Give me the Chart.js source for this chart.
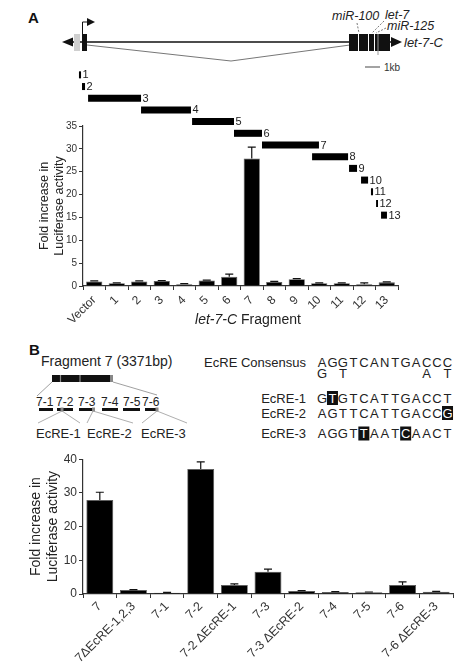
<!DOCTYPE html>
<html><head><meta charset="utf-8">
<script src="https://cdn.jsdelivr.net/npm/chart.js@4.4.1/dist/chart.umd.min.js"></script>
<style>
body{margin:0;width:476px;height:666px;position:relative;background:#fff;font-family:"Liberation Sans",Arial,sans-serif;overflow:hidden}
svg,canvas,div.t{position:absolute}
svg{left:0;top:0}
</style></head><body>
<svg width="476" height="666" viewBox="0 0 476 666" font-family="Liberation Sans, Arial, sans-serif">
  <!-- Panel A gene structure -->
  <text x="28" y="23" font-size="15" font-weight="bold" fill="#111">A</text>
  <line x1="70" y1="42" x2="392" y2="42" stroke="#111" stroke-width="1.5"/>
  <polygon points="62,42 73,37.5 73,46.5" fill="#111"/>
  <rect x="74" y="34" width="6" height="17" fill="#cfcfcf"/>
  <rect x="82" y="34" width="5" height="17" fill="#111"/>
  <polyline points="82.5,34 82.5,22 88,22" fill="none" stroke="#111" stroke-width="1"/>
  <polygon points="95,22 87,18 87,26" fill="#111"/>
  <polyline points="87,45 231,61 350,45" fill="none" stroke="#777" stroke-width="1"/>
  <rect x="349" y="34" width="41" height="17" fill="#111"/>
  <line x1="358.5" y1="34" x2="358.5" y2="51" stroke="#fff" stroke-width="1"/>
  <line x1="368.5" y1="34" x2="368.5" y2="51" stroke="#fff" stroke-width="1"/>
  <line x1="374.5" y1="34" x2="374.5" y2="51" stroke="#fff" stroke-width="1"/>
  <line x1="378" y1="34" x2="378" y2="55" stroke="#999" stroke-width="1"/>
  <polygon points="402,42 391,37 391,47" fill="#111"/>
  <text x="404" y="47" font-size="13" font-style="italic" fill="#222">let-7-C</text>
  <text x="332" y="20" font-size="12.5" font-style="italic" fill="#222">miR-100</text>
  <text x="385" y="19" font-size="12.5" font-style="italic" fill="#222">let-7</text>
  <text x="387" y="30" font-size="12.5" font-style="italic" fill="#222">miR-125</text>
  <line x1="357" y1="23" x2="359" y2="33" stroke="#555" stroke-width="0.8" stroke-dasharray="2,1.5"/>
  <line x1="384" y1="21" x2="372" y2="33" stroke="#555" stroke-width="0.8" stroke-dasharray="2,1.5"/>
  <line x1="386" y1="28" x2="376" y2="33" stroke="#555" stroke-width="0.8" stroke-dasharray="2,1.5"/>
  <line x1="365" y1="67" x2="380" y2="67" stroke="#666" stroke-width="1.2"/>
  <text x="384" y="70.5" font-size="10" fill="#333">1kb</text>

  <!-- Panel B diagram -->
  <text x="29" y="355" font-size="15" font-weight="bold" fill="#111">B</text>
  <text x="41" y="366" font-size="14" fill="#222">Fragment 7 (3371bp)</text>
  <rect x="52" y="375" width="61" height="7" fill="#111"/>
  <line x1="60.5" y1="375" x2="60.5" y2="382" stroke="#888" stroke-width="1.2"/>
  <line x1="80" y1="375" x2="80" y2="382" stroke="#888" stroke-width="1.2"/>
  <rect x="110" y="375" width="3" height="7" fill="#888"/>
  <line x1="52" y1="382" x2="37" y2="396" stroke="#888" stroke-width="0.8"/>
  <line x1="113" y1="382" x2="157" y2="395" stroke="#888" stroke-width="0.8"/>
  <g font-size="12" fill="#222">
    <text x="36" y="405.5">7-1</text><text x="56" y="405.5">7-2</text><text x="78" y="405.5">7-3</text>
    <text x="101" y="405.5">7-4</text><text x="123" y="405.5">7-5</text><text x="142" y="405.5">7-6</text>
  </g>
  <g fill="#111">
    <rect x="39" y="408" width="14" height="3"/><rect x="57" y="408" width="16" height="3"/>
    <rect x="79" y="408" width="15" height="3"/><rect x="102" y="408" width="16" height="3"/>
    <rect x="123" y="408" width="17" height="3"/><rect x="145" y="408" width="12" height="3"/>
  </g>
  <g fill="#888"><rect x="60.5" y="407.5" width="3" height="4"/><rect x="92" y="407.5" width="3" height="4"/><rect x="155.5" y="407.5" width="3" height="4"/></g>
  <g stroke="#999" stroke-width="0.8">
    <line x1="62" y1="411" x2="38" y2="423"/><line x1="62" y1="411" x2="80" y2="423"/>
    <line x1="93" y1="411" x2="87" y2="423"/><line x1="93" y1="411" x2="133" y2="423"/>
    <line x1="157" y1="411" x2="142" y2="423"/><line x1="157" y1="411" x2="187" y2="423"/>
  </g>
  <g font-size="13" fill="#222">
    <text x="36" y="438">EcRE-1</text><text x="87" y="438">EcRE-2</text><text x="141" y="438">EcRE-3</text>
  </g>
  <g id="seqs" font-size="13" fill="#222"></g>
</svg>

<canvas id="fragA" width="476" height="152" style="left:0px;top:69px"></canvas>
<canvas id="chartA" width="476" height="224" style="left:0px;top:116px"></canvas>
<div class="t" style="left:148px;width:200px;top:311px;text-align:center;font-size:14px;color:#222"><i>let-7-C</i> Fragment</div>
<canvas id="chartB" width="476" height="216" style="left:0px;top:450px"></canvas>

<script>
// ---- Panel A data ----
const catsA = ['Vector','1','2','3','4','5','6','7','8','9','10','11','12','13'];
const valsA = [1.0, 0.6, 1.0, 1.1, 0.4, 1.2, 2.0, 27.9, 0.9, 1.5, 0.6, 0.6, 0.4, 0.8];
const errA  = [0.1, 0.1, 0.1, 0.1, 0.1, 0.1, 0.6, 2.5, 0.1, 0.1, 0.1, 0.1, 0.3, 0.1];
const yTicksA = [0,5,10,15,20,25,30,35];

// fragment positions (kb, relative to transcription start)
const fragNames = ['1','2','3','4','5','6','7','8','9','10','11','12','13'];
const fragStart = [-0.19, 0.0, 0.38, 3.69, 6.88, 9.5, 11.25, 14.38, 16.69, 17.44, 18.06, 18.38, 18.69];
const fragEnd   = [-0.06, 0.19, 3.69, 6.81, 9.5, 11.25, 14.81, 16.63, 17.19, 17.88, 18.19, 18.5, 19.06];

// ---- Panel B data ----
const catsB = ['7','7\u0394EcRE-1,2,3','7-1','7-2','7-2 \u0394EcRE-1','7-3','7-3 \u0394EcRE-2','7-4','7-5','7-6','7-6 \u0394EcRE-3'];
const valsB = [27.9, 1.2, 0.4, 37.1, 2.7, 6.6, 0.9, 0.6, 0.5, 2.7, 0.7];
const errB  = [2.3, 0.1, 0.1, 2.1, 0.3, 0.8, 0.1, 0.1, 0.1, 0.9, 0.1];
const yTicksB = [0,5,10,15,20,25,30,35,40];

// sequences
const seqRows = [
  {label:'EcRE Consensus', seq:'AGGTCANTGACCC', hi:[], y:367},
  {label:'', seq:'G T       A T', hi:[], y:377.5},
  {label:'EcRE-1', seq:'GTGTCATTGACCT', hi:[1], y:402.5},
  {label:'EcRE-2', seq:'AGTTCATTGACCG', hi:[12], y:417.5},
  {label:'EcRE-3', seq:'AGGTTAATCAACT', hi:[4,8], y:438}
];

// ---- build sequence text ----
const NS='http://www.w3.org/2000/svg';
const g=document.getElementById('seqs');
seqRows.forEach(r=>{
  if(r.label){const t=document.createElementNS(NS,'text');t.setAttribute('x',306);t.setAttribute('y',r.y);t.setAttribute('text-anchor','end');t.textContent=r.label;g.appendChild(t);}
  [...r.seq].forEach((ch,i)=>{
    if(ch===' ')return;
    const cx=322+i*10.46;
    const hl=r.hi.includes(i);
    if(hl){const b=document.createElementNS(NS,'rect');b.setAttribute('x',cx-5.5);b.setAttribute('y',r.y-11.5);b.setAttribute('width',11);b.setAttribute('height',14);b.setAttribute('fill','#111');g.appendChild(b);}
    const t=document.createElementNS(NS,'text');t.setAttribute('x',cx);t.setAttribute('y',r.y);t.setAttribute('text-anchor','middle');
    if(hl)t.setAttribute('fill','#fff');t.textContent=ch;g.appendChild(t);
  });
});

const FONT='"Liberation Sans", Arial, sans-serif';
Chart.defaults.font.family=FONT;
Chart.defaults.color='#333';

function errPlugin(errs){
  return {id:'errbars', afterDatasetsDraw(chart){
    const ctx=chart.ctx, meta=chart.getDatasetMeta(0), y=chart.scales.y, data=chart.data.datasets[0].data;
    ctx.save();ctx.strokeStyle='#111';ctx.lineWidth=1.2;
    meta.data.forEach((bar,i)=>{
      const e=errs[i]; if(!e) return;
      const yt=y.getPixelForValue(data[i]+e);
      ctx.beginPath();ctx.moveTo(bar.x,bar.y);ctx.lineTo(bar.x,yt);
      ctx.moveTo(bar.x-4,yt);ctx.lineTo(bar.x+4,yt);ctx.stroke();
    });
    ctx.restore();
  }};
}

function barChart(id, cats, vals, errs, ticks, cfg){
  return new Chart(document.getElementById(id),{
    type:'bar',
    data:{labels:cats,datasets:[{data:vals,backgroundColor:'#000',borderColor:'#555',borderWidth:0.8,borderSkipped:'bottom',barPercentage:cfg.barPct,categoryPercentage:1}]},
    options:{
      responsive:false,animation:false,
      layout:{padding:{left:0,right:cfg.padR,top:cfg.padT,bottom:0}},
      plugins:{legend:{display:false},tooltip:{enabled:false}},
      scales:{
        x:{
          grid:{display:true,drawOnChartArea:false,offset:true,color:'#333',tickLength:4,tickColor:'#333'},
          border:{display:true,color:'#333',width:1.2},
          ticks:{autoSkip:false,minRotation:45,maxRotation:45,padding:cfg.xPad,font:{size:cfg.xFont},color:'#333'},
          afterFit(s){s.height=cfg.xH;}
        },
        y:{
          min:0,max:ticks[ticks.length-1],
          afterBuildTicks(s){s.ticks=ticks.map(v=>({value:v}));},
          grid:{display:true,drawOnChartArea:false,color:'#333',tickLength:4,tickColor:'#333'},
          border:{display:true,color:'#333',width:1.2},
          ticks:{padding:2,font:{size:cfg.yFont},color:'#333'},
          title:{display:true,text:['Fold increase in','Luciferase activity'],font:{size:cfg.tFont},color:'#222',padding:{top:cfg.tPad,bottom:0}},
          afterFit(s){s.width=83;}
        }
      }
    },
    plugins:[errPlugin(errs)]
  });
}

barChart('chartA', catsA, valsA, errA, yTicksA, {barPct:0.72,padR:78,padT:10,xH:54,xFont:12,xPad:3,yFont:10,tFont:12.5,tPad:37});
barChart('chartB', catsB, valsB, errB, yTicksB, {barPct:0.8,padR:23,padT:8,xH:72,xFont:12.5,xPad:1,yFont:12,tFont:14,tPad:28});

// fragments diagram (floating horizontal bars on a kb scale)
new Chart(document.getElementById('fragA'),{
  type:'bar',
  data:{labels:fragNames,datasets:[{data:fragStart.map((s,i)=>[s,fragEnd[i]]),backgroundColor:'#000',borderWidth:0,barPercentage:0.6,categoryPercentage:1}]},
  options:{
    indexAxis:'y',responsive:false,animation:false,
    layout:{padding:0},
    plugins:{legend:{display:false},tooltip:{enabled:false}},
    scales:{x:{type:'linear',min:-82/16,max:(476-82)/16,display:false},y:{display:false}}
  },
  plugins:[{id:'fraglabels',afterDatasetsDraw(chart){
    const ctx=chart.ctx,meta=chart.getDatasetMeta(0);
    ctx.save();ctx.fillStyle='#222';ctx.font='11px '+FONT;ctx.textBaseline='middle';ctx.textAlign='left';
    meta.data.forEach((b,i)=>{ctx.fillText(fragNames[i],Math.max(b.x,b.base)+1.5,b.y+0.5);});
    ctx.restore();
  }}]
});
</script>
</body></html>
